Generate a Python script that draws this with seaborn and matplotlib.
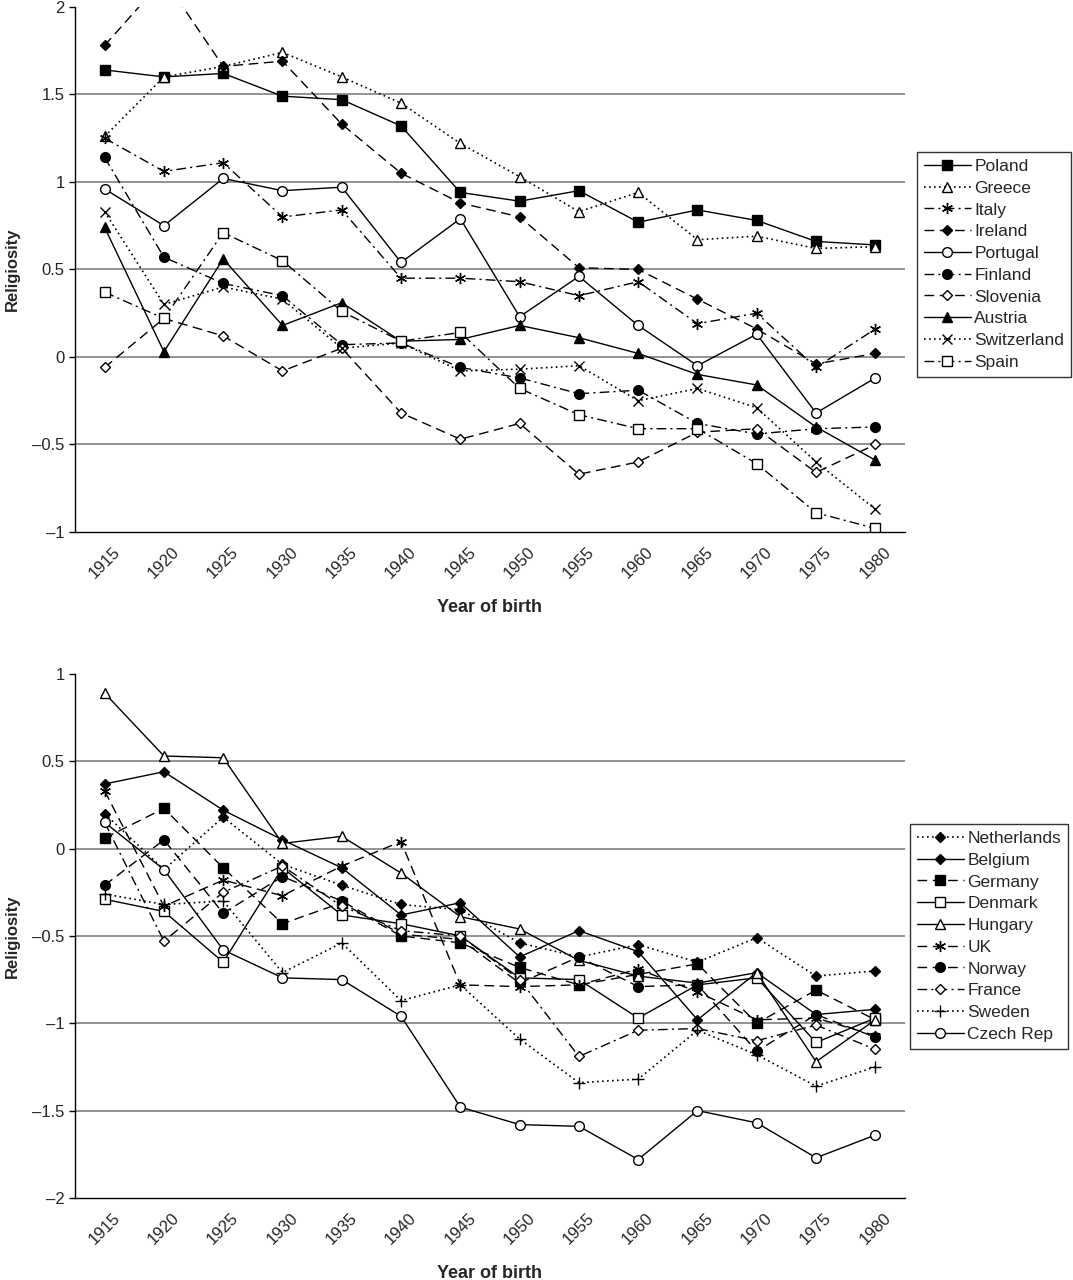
import numpy as np
import pandas as pd
import matplotlib
matplotlib.use("Agg")
import matplotlib.pyplot as plt
import seaborn as sns

years = [1915, 1920, 1925, 1930, 1935, 1940, 1945, 1950, 1955, 1960, 1965, 1970, 1975, 1980]

# top panel
poland = [1.64, 1.60, 1.62, 1.49, 1.47, 1.32, 0.94, 0.89, 0.95, 0.77, 0.84, 0.78, 0.66, 0.64]
greece = [1.26, 1.60, 1.66, 1.74, 1.60, 1.45, 1.22, 1.03, 0.83, 0.94, 0.67, 0.69, 0.62, 0.63]
italy = [1.25, 1.06, 1.11, 0.80, 0.84, 0.45, 0.45, 0.43, 0.35, 0.43, 0.19, 0.25, -0.06, 0.16]
ireland = [1.78, 2.16, 1.66, 1.69, 1.33, 1.05, 0.88, 0.80, 0.51, 0.50, 0.33, 0.16, -0.04, 0.02]
portugal = [0.96, 0.75, 1.02, 0.95, 0.97, 0.54, 0.79, 0.23, 0.46, 0.18, -0.05, 0.13, -0.32, -0.12]
finland = [1.14, 0.57, 0.42, 0.35, 0.07, 0.08, -0.06, -0.12, -0.21, -0.19, -0.38, -0.44, -0.41, -0.40]
slovenia = [-0.06, 0.22, 0.12, -0.08, 0.05, -0.32, -0.47, -0.38, -0.67, -0.60, -0.43, -0.41, -0.66, -0.50]
austria = [0.74, 0.03, 0.56, 0.18, 0.31, 0.09, 0.10, 0.18, 0.11, 0.02, -0.10, -0.16, -0.40, -0.59]
switzerland = [0.83, 0.30, 0.40, 0.33, 0.05, 0.08, -0.08, -0.07, -0.05, -0.25, -0.18, -0.29, -0.60, -0.87]
spain = [0.37, 0.22, 0.71, 0.55, 0.26, 0.09, 0.14, -0.18, -0.33, -0.41, -0.41, -0.61, -0.89, -0.98]

# bottom panel
netherlands = [0.20, -0.12, 0.18, -0.09, -0.21, -0.32, -0.35, -0.54, -0.62, -0.55, -0.65, -0.51, -0.73, -0.70]
belgium = [0.37, 0.44, 0.22, 0.05, -0.11, -0.38, -0.31, -0.62, -0.47, -0.59, -0.98, -0.71, -0.95, -0.92]
germany = [0.06, 0.23, -0.11, -0.43, -0.31, -0.50, -0.54, -0.68, -0.78, -0.72, -0.66, -1.00, -0.81, -0.98]
denmark = [-0.29, -0.36, -0.65, -0.11, -0.38, -0.43, -0.50, -0.74, -0.75, -0.97, -0.78, -0.74, -1.11, -0.97]
hungary = [0.89, 0.53, 0.52, 0.03, 0.07, -0.14, -0.39, -0.46, -0.64, -0.73, -0.77, -0.71, -1.22, -0.98]
uk = [0.33, -0.33, -0.18, -0.27, -0.10, 0.04, -0.78, -0.79, -0.78, -0.69, -0.82, -0.98, -0.97, -1.07]
norway = [-0.21, 0.05, -0.37, -0.16, -0.30, -0.49, -0.52, -0.77, -0.62, -0.79, -0.78, -1.16, -0.95, -1.08]
france = [0.15, -0.53, -0.25, -0.10, -0.33, -0.47, -0.50, -0.75, -1.19, -1.04, -1.03, -1.10, -1.01, -1.15]
sweden = [-0.26, -0.32, -0.30, -0.71, -0.54, -0.87, -0.78, -1.09, -1.34, -1.32, -1.04, -1.18, -1.36, -1.25]
czech = [0.15, -0.12, -0.58, -0.74, -0.75, -0.96, -1.48, -1.58, -1.59, -1.78, -1.50, -1.57, -1.77, -1.64]

SOLID = "-"
DOT = (0, (1, 2))
DASH = (0, (7, 4))
DASHDOT = (0, (7, 3, 1.5, 3))
AST = (6, 2, 0)

# name, values, linestyle, marker, filled, size
top_series = [
    ("Poland", poland, SOLID, "s", True, 6.5),
    ("Greece", greece, DOT, "^", False, 7),
    ("Italy", italy, DASHDOT, AST, True, 8),
    ("Ireland", ireland, DASH, "D", True, 5),
    ("Portugal", portugal, SOLID, "o", False, 7),
    ("Finland", finland, DASHDOT, "o", True, 7),
    ("Slovenia", slovenia, DASH, "D", False, 5),
    ("Austria", austria, SOLID, "^", True, 7),
    ("Switzerland", switzerland, DOT, "x", True, 7),
    ("Spain", spain, DASHDOT, "s", False, 6.5),
]
bottom_series = [
    ("Netherlands", netherlands, DOT, "D", True, 5),
    ("Belgium", belgium, SOLID, "D", True, 5),
    ("Germany", germany, DASH, "s", True, 6.5),
    ("Denmark", denmark, SOLID, "s", False, 6.5),
    ("Hungary", hungary, SOLID, "^", False, 7),
    ("UK", uk, DASH, AST, True, 8),
    ("Norway", norway, DASH, "o", True, 7),
    ("France", france, DASHDOT, "D", False, 5),
    ("Sweden", sweden, DOT, "+", True, 8),
    ("Czech Rep", czech, SOLID, "o", False, 7),
]

sns.set_style("white")
plt.rcParams["font.family"] = ["Liberation Sans", "DejaVu Sans"]

fig = plt.figure(figsize=(10.73, 12.8), dpi=100)
ax1 = fig.add_axes([0.0699, 0.5844, 0.7735, 0.4102])
ax2 = fig.add_axes([0.0699, 0.0641, 0.7735, 0.4094])


def draw_panel(ax, series, ylim, legend_xy):
    for name, vals, ls, mk, filled, ms in series:
        sns.lineplot(x=years, y=vals, ax=ax, color="black", linestyle=ls,
                     linewidth=1.2 if ls == DOT else 1.0,
                     marker=mk, markersize=ms, markeredgecolor="black", markeredgewidth=1.0,
                     markerfacecolor="black" if filled else "white", label=name, legend=False)
    handles = list(ax.lines)
    ax.set_xlim(1912.5, 1982.5)
    ax.set_ylim(*ylim)
    ax.set_xticks(years)
    ax.set_xticklabels([str(y) for y in years], rotation=45, fontsize=12)
    ax.set_xticks(np.arange(1912.5, 1983, 5), minor=True)
    ax.tick_params(axis="x", which="major", length=0, pad=9)
    ax.tick_params(axis="x", which="minor", length=4, width=1, direction="out", color="black")
    yt = np.arange(ylim[0], ylim[1] + 0.01, 0.5)
    ax.set_yticks(yt)
    ax.set_yticklabels([f"{v:g}".replace("-", "\u2013") for v in yt], fontsize=12)
    ax.tick_params(axis="y", length=4, width=1, direction="out", color="black", left=True)
    # grey gridlines, none at the top edge
    for v in yt[1:-1]:
        ax.axhline(v, color="#808080", linewidth=1.2, zorder=0)
    for s in ["top", "right"]:
        ax.spines[s].set_visible(False)
    for s in ["left", "bottom"]:
        ax.spines[s].set_color("black")
        ax.spines[s].set_linewidth(1.0)
    ax.set_xlabel("Year of birth", fontsize=13, fontweight="bold", labelpad=13)
    ax.set_ylabel("Religiosity", fontsize=12, fontweight="bold")
    ax.yaxis.set_label_coords(-0.066, 0.5)
    leg = ax.legend(handles=handles, labels=[s[0] for s in series], loc="upper left",
                    bbox_to_anchor=legend_xy, bbox_transform=fig.transFigure,
                    borderaxespad=0, fontsize=12.5, frameon=True, fancybox=False,
                    edgecolor="black", handlelength=2.7, handletextpad=0.2,
                    labelspacing=0.38, borderpad=0.4)
    leg.get_frame().set_linewidth(1.0)


draw_panel(ax1, top_series, (-1, 2), (0.8546, 0.8813))
draw_panel(ax2, bottom_series, (-2, 1), (0.848, 0.3563))

fig.savefig("out.png", dpi=100)
